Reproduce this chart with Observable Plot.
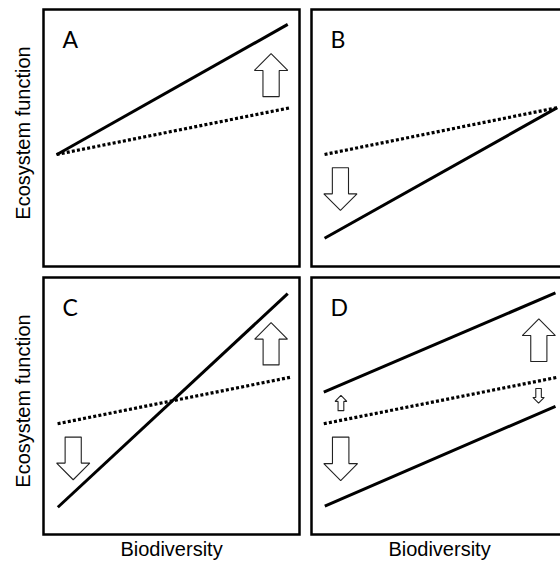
<!DOCTYPE html>
<html>
<head>
<meta charset="utf-8">
<script src="https://cdn.jsdelivr.net/npm/d3@7"></script>
<script src="https://cdn.jsdelivr.net/npm/@observablehq/plot@0.6"></script>
<style>
  html, body { margin: 0; padding: 0; background: white; overflow: hidden; width: 560px; height: 563px; }
  #chart { width: 560px; height: 563px; overflow: hidden; }
</style>
</head>
<body>
<div id="chart"></div>
<script>
// Panels
const panelLabels = ["A", "B", "C", "D"];
const panelCol = ["left", "right", "left", "right"];
const panelRow = ["top", "top", "bottom", "bottom"];

// Axis titles
const xTitle = "Biodiversity";
const yTitle = "Ecosystem function";

// Relationship lines (data units 0–10 within each panel)
const linePanel = ["A", "A", "B", "B", "C", "C", "D", "D", "D"];
const lineKind  = ["altered", "baseline", "baseline", "altered", "altered", "baseline", "altered", "baseline", "altered"];
const lineX1 = [0.51, 0.51, 0.51, 0.51, 0.56, 0.55, 0.48, 0.48, 0.52];
const lineY1 = [4.35, 4.36, 4.36, 1.10, 1.06, 4.31, 5.54, 4.31, 1.10];
const lineX2 = [9.54, 9.65, 9.60, 9.60, 9.54, 9.65, 9.53, 9.62, 9.53];
const lineY2 = [9.42, 6.18, 6.18, 6.18, 9.37, 6.12, 9.40, 6.12, 4.99];

// Change arrows
const arrowPanel = ["A", "B", "C", "C", "D", "D", "D", "D"];
const arrowX     = [8.89, 1.13, 8.89, 1.16, 8.88, 1.15, 8.87, 1.14];
const arrowTail  = [6.61, 3.84, 6.60, 3.79, 6.73, 4.82, 5.68, 3.79];
const arrowTip   = [8.28, 2.18, 8.24, 2.13, 8.39, 5.41, 5.11, 2.10];

// ---- build tables ----
const colOf = p => panelCol[panelLabels.indexOf(p)];
const rowOf = p => panelRow[panelLabels.indexOf(p)];

const panels = panelLabels.map((label, i) => ({label, col: panelCol[i], row: panelRow[i]}));
const lines = linePanel.map((p, i) => ({
  col: colOf(p), row: rowOf(p), kind: lineKind[i],
  x1: lineX1[i], y1: lineY1[i], x2: lineX2[i], y2: lineY2[i]
}));

const arrowPts = [];
arrowPanel.forEach((p, i) => {
  const c = arrowX[i], t = arrowTail[i], tip = arrowTip[i];
  const L = tip - t, len = Math.abs(L);
  const hb = tip - 0.39 * L;
  const hw = 0.39 * len, sw = 0.19 * len;
  const pts = [[c - sw, t], [c - sw, hb], [c - hw, hb], [c, tip], [c + hw, hb], [c + sw, hb], [c + sw, t], [c - sw, t]];
  pts.forEach(([x, y]) => arrowPts.push({id: i, col: colOf(p), row: rowOf(p), x, y}));
});

const chart = Plot.plot({
  width: 567,
  height: 563,
  marginLeft: 43,
  marginRight: 0,
  marginTop: 9,
  marginBottom: 29,
  facet: {marginTop: 0, marginRight: 0, marginBottom: 0, marginLeft: 0},
  fx: {domain: ["left", "right"], paddingInner: 12 / 268, paddingOuter: 0, axis: null},
  fy: {domain: ["top", "bottom"], paddingInner: 11 / 268, paddingOuter: 0, axis: null},
  x: {domain: [0, 10], axis: null},
  y: {domain: [0, 10], axis: null},
  style: {fontFamily: "Liberation Sans, Arial, sans-serif", background: "white", maxWidth: "none"},
  marks: [
    Plot.link(lines.filter(d => d.kind === "baseline"), {
      fx: "col", fy: "row", x1: "x1", y1: "y1", x2: "x2", y2: "y2",
      stroke: "black", strokeWidth: 3.2, strokeDasharray: "3,2.2", strokeLinecap: "butt"
    }),
    Plot.link(lines.filter(d => d.kind === "altered"), {
      fx: "col", fy: "row", x1: "x1", y1: "y1", x2: "x2", y2: "y2",
      stroke: "black", strokeWidth: 3
    }),
    Plot.line(arrowPts, {
      fx: "col", fy: "row", x: "x", y: "y", z: "id",
      fill: "white", stroke: "#222", strokeWidth: 1.1, strokeLinejoin: "miter"
    }),
    Plot.frame({stroke: "black", strokeWidth: 2.5}),
    Plot.text(panels, {
      fx: "col", fy: "row", text: "label", frameAnchor: "top-left",
      dx: 19, dy: 22, textAnchor: "start", fontSize: 23, fontFamily: "Lato, sans-serif", fill: "black"
    }),
    Plot.text(["top", "bottom"], {
      fx: () => "left", fy: d => d, text: () => yTitle, frameAnchor: "left",
      textAnchor: "middle", dx: -20, dy: -5, rotate: -90, fontSize: 20, fill: "black"
    }),
    Plot.text(["left", "right"], {
      fx: d => d, fy: () => "bottom", text: () => xTitle, frameAnchor: "bottom",
      textAnchor: "middle", dy: 21, fontSize: 20, fill: "black"
    })
  ]
});
document.getElementById("chart").appendChild(chart);
</script>
</body>
</html>
